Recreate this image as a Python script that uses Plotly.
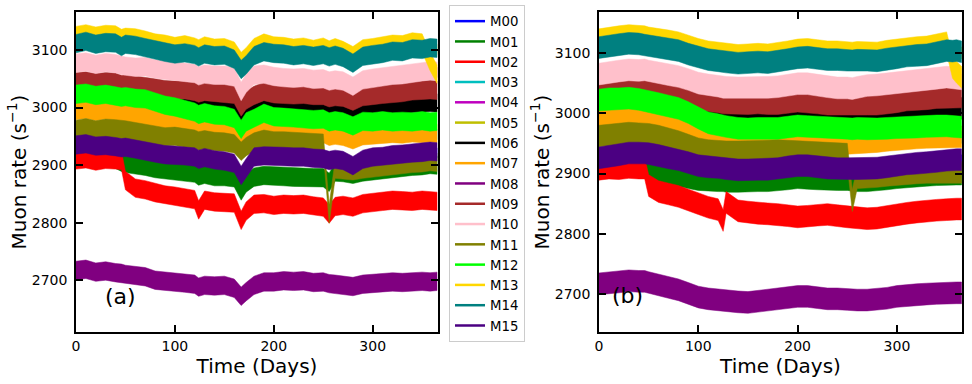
import plotly.graph_objects as go

# ---- data (muon rate, counts per second) ----
names = ["M%02d" % i for i in range(16)]
colors = ["#0000ff", "#008000", "#ff0000", "#00bfbf", "#bf00bf", "#bfbf00",
          "#000000", "#ffa500", "#800080", "#a52a2a", "#ffc0cb", "#808000",
          "#00ff00", "#ffd700", "#008080", "#4b0082"]

days_a = [0, 10, 20, 30, 40, 46, 50, 60, 70, 80, 90, 100, 110, 120, 124, 130,
          140, 150, 160, 167, 172, 180, 190, 200, 210, 220, 230, 240, 250, 256,
          262, 270, 280, 290, 300, 310, 320, 330, 340, 350, 358, 365]

days_b = [0, 10, 20, 30, 40, 46, 50, 60, 70, 80, 90, 100, 110, 120, 125, 128,
          140, 150, 160, 170, 180, 190, 200, 210, 220, 230, 240, 250, 255, 260,
          270, 280, 290, 300, 310, 320, 330, 340, 350, 356, 360, 365]

# panel (a)
a_m00 = [2933, 2935, 2931, 2932, 2930, 2928, 2929, 2926, 2923, 2919, 2916, 2915, 2914, 2912, 2908, 2911,
         2907, 2905, 2901, 2882, 2893, 2912, 2914, 2914, 2913, 2912, 2912, 2910, 2909, 2906,
         2908, 2906, 2899, 2908, 2912, 2913, 2916, 2917, 2919, 2920, 2922, 2921]
a_m01 = [2915, 2914, 2912, 2913, 2910, 2905, 2903, 2900, 2898, 2894, 2891, 2890, 2888, 2886, 2881, 2884,
         2880, 2880, 2878, 2855, 2869, 2879, 2882, 2881, 2880, 2879, 2879, 2878, 2878, 2870,
         2888, 2887, 2884, 2888, 2890, 2892, 2894, 2896, 2898, 2899, 2901, 2900]
a_m02 = [2909, 2911, 2907, 2910, 2909, 2908, 2873, 2860, 2857, 2852, 2848, 2846, 2843, 2840, 2822, 2839,
         2836, 2835, 2834, 2804, 2820, 2832, 2833, 2830, 2832, 2831, 2832, 2829, 2827, 2815,
         2828, 2830, 2827, 2833, 2835, 2837, 2839, 2838, 2837, 2839, 2838, 2837]
a_m03 = [2993, 2995, 2991, 2994, 2990, 2988, 2989, 2986, 2983, 2979, 2975, 2973, 2970, 2966, 2962, 2965,
         2961, 2960, 2956, 2942, 2951, 2958, 2964, 2960, 2959, 2958, 2957, 2954, 2953, 2948,
         2950, 2948, 2942, 2949, 2950, 2952, 2953, 2952, 2954, 2953, 2954, 2953]
a_m04 = [3075, 3077, 3073, 3076, 3074, 3071, 3070, 3068, 3069, 3065, 3063, 3061, 3059, 3057, 3053, 3056,
         3054, 3054, 3051, 3030, 3040, 3054, 3056, 3052, 3050, 3049, 3050, 3047, 3048, 3044,
         3046, 3044, 3037, 3046, 3049, 3051, 3054, 3055, 3057, 3060, 3062, 3061]
a_m05 = [3109, 3113, 3108, 3111, 3110, 3104, 3108, 3106, 3102, 3098, 3094, 3091, 3093, 3090, 3086, 3091,
         3088, 3089, 3082, 3068, 3072, 3088, 3095, 3092, 3091, 3088, 3090, 3087, 3090, 3086,
         3089, 3085, 3077, 3087, 3090, 3092, 3096, 3095, 3100, 3099, 3102, 3101]
a_m06 = [3025, 3026, 3022, 3024, 3022, 3020, 3020, 3018, 3016, 3013, 3010, 3008, 3007, 3006, 3002, 3006,
         3004, 3003, 3000, 2982, 2992, 3000, 3005, 3002, 3001, 2999, 3000, 2998, 2998, 2994,
         2996, 2995, 2988, 2997, 2999, 3001, 3003, 3004, 3007, 3008, 3009, 3008]
a_m07 = [2995, 2997, 2993, 2996, 2992, 2990, 2991, 2988, 2985, 2981, 2977, 2975, 2972, 2968, 2964, 2967,
         2963, 2962, 2958, 2944, 2953, 2960, 2966, 2962, 2961, 2960, 2959, 2956, 2955, 2950,
         2952, 2950, 2944, 2951, 2952, 2954, 2955, 2954, 2956, 2955, 2956, 2955]
a_m08 = [2717, 2719, 2714, 2716, 2713, 2712, 2710, 2708, 2706, 2700, 2698, 2697, 2695, 2693, 2688, 2691,
         2690, 2691, 2686, 2672, 2680, 2691, 2697, 2697, 2699, 2698, 2699, 2696, 2697, 2694,
         2693, 2691, 2689, 2693, 2694, 2696, 2697, 2696, 2697, 2698, 2697, 2698]
a_m09 = [3045, 3046, 3043, 3045, 3044, 3040, 3041, 3039, 3037, 3034, 3031, 3030, 3031, 3028, 3025, 3028,
         3026, 3025, 3023, 3001, 3013, 3021, 3028, 3024, 3023, 3022, 3023, 3021, 3021, 3017,
         3019, 3018, 3011, 3019, 3021, 3023, 3025, 3026, 3029, 3030, 3031, 3030]
a_m10 = [3077, 3079, 3075, 3078, 3076, 3073, 3072, 3070, 3071, 3067, 3065, 3063, 3061, 3059, 3055, 3058,
         3056, 3056, 3053, 3028, 3042, 3056, 3058, 3054, 3052, 3051, 3052, 3049, 3050, 3046,
         3048, 3046, 3037, 3048, 3051, 3053, 3056, 3057, 3059, 3062, 3064, 3063]
a_m11 = [2962, 2965, 2961, 2964, 2963, 2962, 2961, 2958, 2955, 2951, 2949, 2950, 2947, 2945, 2942, 2944,
         2941, 2940, 2937, 2924, 2932, 2940, 2945, 2942, 2942, 2941, 2940, 2939, 2938, 2815,
         2893, 2891, 2890, 2893, 2895, 2897, 2900, 2901, 2903, 2904, 2906, 2905]
a_m12 = [3023, 3025, 3021, 3023, 3020, 3018, 3019, 3016, 3015, 3010, 3004, 3001, 2997, 2992, 2988, 2991,
         2987, 2986, 2981, 2962, 2975, 2981, 2990, 2984, 2983, 2982, 2981, 2979, 2980, 2975,
         2977, 2975, 2968, 2976, 2975, 2977, 2975, 2976, 2975, 2977, 2975, 2976]
a_m13 = [3125, 3128, 3124, 3127, 3126, 3120, 3122, 3121, 3117, 3112, 3110, 3106, 3109, 3105, 3102, 3107,
         3103, 3104, 3098, 3080, 3088, 3104, 3112, 3107, 3106, 3103, 3105, 3101, 3105, 3100,
         3104, 3099, 3090, 3102, 3104, 3107, 3110, 3109, 3114, 3112, 3080, 3058]
a_m14 = [3111, 3115, 3110, 3113, 3112, 3106, 3110, 3108, 3104, 3100, 3096, 3093, 3095, 3092, 3088, 3093,
         3090, 3091, 3084, 3066, 3074, 3090, 3097, 3094, 3093, 3090, 3092, 3089, 3092, 3088,
         3091, 3087, 3077, 3089, 3092, 3094, 3098, 3097, 3102, 3101, 3104, 3103]
a_m15 = [2935, 2937, 2933, 2934, 2932, 2930, 2931, 2928, 2925, 2921, 2918, 2917, 2916, 2914, 2910, 2913,
         2909, 2907, 2903, 2882, 2895, 2914, 2916, 2916, 2915, 2914, 2914, 2912, 2911, 2908,
         2910, 2908, 2899, 2910, 2914, 2915, 2918, 2919, 2921, 2922, 2924, 2923]

# panel (b)
b_m00 = [2924, 2927, 2929, 2932, 2932, 2932, 2931, 2928, 2924, 2921, 2916, 2911, 2909, 2908, 2907, 2906,
         2904, 2904, 2905, 2905, 2906, 2909, 2911, 2911, 2909, 2907, 2906, 2906, 2906, 2906,
         2906, 2907, 2909, 2911, 2914, 2915, 2916, 2918, 2920, 2921, 2921, 2921]
b_m01 = [2912, 2913, 2914, 2916, 2915, 2913, 2910, 2905, 2900, 2896, 2893, 2890, 2889, 2888, 2888, 2887,
         2887, 2887, 2888, 2888, 2889, 2891, 2893, 2892, 2891, 2890, 2890, 2890, 2889, 2888,
         2888, 2889, 2891, 2893, 2895, 2896, 2897, 2898, 2899, 2899, 2899, 2899]
b_m02 = [2907, 2909, 2908, 2910, 2909, 2909, 2880, 2870, 2866, 2862, 2856, 2850, 2844, 2840, 2822, 2852,
         2838, 2836, 2834, 2833, 2832, 2830, 2828, 2829, 2831, 2832, 2830, 2828, 2827, 2826,
         2825, 2826, 2829, 2831, 2834, 2836, 2838, 2839, 2840, 2841, 2841, 2841]
b_m03 = [2987, 2989, 2990, 2991, 2989, 2988, 2987, 2984, 2980, 2976, 2970, 2964, 2962, 2960, 2959, 2959,
         2958, 2958, 2959, 2957, 2956, 2957, 2957, 2956, 2954, 2951, 2950, 2949, 2949, 2950,
         2951, 2952, 2954, 2956, 2957, 2958, 2959, 2960, 2960, 2960, 2960, 2960]
b_m04 = [3063, 3066, 3068, 3070, 3069, 3070, 3068, 3065, 3062, 3059, 3054, 3048, 3045, 3043, 3041, 3041,
         3040, 3040, 3041, 3041, 3042, 3044, 3047, 3047, 3045, 3042, 3040, 3040, 3039, 3041,
         3044, 3045, 3047, 3049, 3051, 3052, 3054, 3056, 3058, 3057, 3056, 3055]
b_m05 = [3107, 3110, 3112, 3114, 3113, 3111, 3110, 3108, 3105, 3102, 3096, 3091, 3087, 3085, 3084, 3083,
         3081, 3082, 3083, 3082, 3084, 3087, 3090, 3091, 3089, 3087, 3087, 3086, 3085, 3086,
         3086, 3085, 3088, 3090, 3093, 3094, 3095, 3099, 3102, 3101, 3102, 3100]
b_m06 = [3025, 3027, 3028, 3030, 3029, 3028, 3027, 3024, 3020, 3016, 3011, 3006, 3003, 3000, 2998, 2998,
         2997, 2997, 2998, 2997, 2997, 2999, 3001, 3000, 2998, 2996, 2996, 2996, 2995, 2996,
         2996, 2996, 2998, 3000, 3003, 3004, 3005, 3007, 3008, 3008, 3008, 3008]
b_m07 = [2989, 2991, 2992, 2993, 2991, 2990, 2989, 2986, 2982, 2978, 2972, 2966, 2963, 2961, 2960, 2960,
         2959, 2959, 2960, 2958, 2957, 2958, 2958, 2957, 2955, 2952, 2951, 2950, 2950, 2951,
         2952, 2953, 2955, 2957, 2958, 2959, 2960, 2961, 2961, 2961, 2961, 2961]
b_m08 = [2717, 2719, 2720, 2722, 2721, 2721, 2719, 2715, 2711, 2707, 2701, 2695, 2692, 2690, 2689, 2689,
         2687, 2686, 2688, 2690, 2692, 2694, 2696, 2696, 2694, 2692, 2692, 2691, 2690, 2690,
         2690, 2691, 2693, 2696, 2698, 2699, 2700, 2701, 2702, 2702, 2702, 2702]
b_m09 = [3039, 3041, 3042, 3044, 3043, 3042, 3041, 3038, 3034, 3030, 3025, 3022, 3021, 3019, 3017, 3017,
         3016, 3016, 3017, 3016, 3016, 3018, 3020, 3019, 3017, 3015, 3015, 3015, 3014, 3015,
         3015, 3015, 3017, 3019, 3022, 3023, 3024, 3026, 3027, 3027, 3027, 3027]
b_m10 = [3065, 3068, 3070, 3072, 3071, 3072, 3070, 3067, 3064, 3061, 3056, 3050, 3047, 3045, 3043, 3043,
         3042, 3042, 3043, 3043, 3044, 3046, 3049, 3049, 3047, 3044, 3042, 3042, 3041, 3043,
         3046, 3047, 3049, 3051, 3053, 3054, 3056, 3058, 3060, 3059, 3058, 3057]
b_m11 = [2962, 2964, 2965, 2967, 2966, 2966, 2965, 2962, 2958, 2953, 2947, 2941, 2938, 2937, 2936, 2936,
         2936, 2936, 2937, 2937, 2938, 2937, 2936, 2935, 2934, 2933, 2932, 2932, 2855, 2893,
         2894, 2895, 2897, 2899, 2900, 2901, 2902, 2902, 2903, 2903, 2902, 2902]
b_m12 = [3022, 3024, 3024, 3025, 3023, 3021, 3020, 3016, 3012, 3008, 3001, 2992, 2984, 2981, 2979, 2978,
         2975, 2974, 2975, 2975, 2975, 2977, 2979, 2978, 2977, 2976, 2976, 2975, 2974, 2975,
         2974, 2974, 2975, 2976, 2977, 2977, 2978, 2979, 2979, 2978, 2977, 2977]
b_m13 = [3122, 3125, 3127, 3129, 3128, 3127, 3125, 3123, 3120, 3117, 3111, 3106, 3102, 3100, 3099, 3098,
         3096, 3097, 3098, 3097, 3099, 3102, 3105, 3106, 3104, 3102, 3102, 3101, 3100, 3101,
         3101, 3100, 3103, 3105, 3108, 3109, 3110, 3114, 3117, 3076, 3068, 3060]
b_m14 = [3109, 3112, 3114, 3116, 3115, 3113, 3112, 3110, 3107, 3104, 3098, 3093, 3089, 3087, 3086, 3085,
         3083, 3084, 3085, 3084, 3086, 3089, 3092, 3093, 3091, 3089, 3089, 3088, 3087, 3088,
         3088, 3087, 3090, 3092, 3095, 3096, 3097, 3101, 3104, 3103, 3104, 3102]
b_m15 = [2926, 2929, 2931, 2934, 2934, 2934, 2933, 2930, 2926, 2923, 2918, 2913, 2911, 2910, 2909, 2908,
         2906, 2906, 2907, 2907, 2908, 2911, 2913, 2913, 2911, 2909, 2908, 2908, 2908, 2908,
         2908, 2909, 2911, 2913, 2916, 2917, 2918, 2920, 2922, 2923, 2923, 2923]

panel_a = [a_m00, a_m01, a_m02, a_m03, a_m04, a_m05, a_m06, a_m07,
           a_m08, a_m09, a_m10, a_m11, a_m12, a_m13, a_m14, a_m15]
panel_b = [b_m00, b_m01, b_m02, b_m03, b_m04, b_m05, b_m06, b_m07,
           b_m08, b_m09, b_m10, b_m11, b_m12, b_m13, b_m14, b_m15]

FONT = "DejaVu Sans"
W, H = 972, 384
hidden = {0, 3, 4, 5}  # these sit fully under later detectors


def band(days, vals, half):
    # the hourly scatter reads as a band of constant height around each curve
    xs = list(days) + list(days)[::-1]
    ys = [v + half for v in vals] + [v - half for v in vals][::-1]
    return xs, ys


fig = go.Figure()
for i, name in enumerate(names):
    ha, hb = (9, 10) if i in hidden else (16, 18)
    for days, vals, half, xa, ya in ((days_a, panel_a[i], ha, "x", "y"),
                                     (days_b, panel_b[i], hb, "x2", "y2")):
        xs, ys = band(days, vals, half)
        fig.add_trace(go.Scatter(x=xs, y=ys, mode="lines", fill="toself", name=name,
                                 fillcolor=colors[i], line=dict(color=colors[i], width=0.5),
                                 showlegend=False, hoverinfo="skip", xaxis=xa, yaxis=ya))
# thin legend entries
for i, name in enumerate(names):
    fig.add_trace(go.Scatter(x=[None], y=[None], mode="lines", name=name,
                             line=dict(color=colors[i], width=2.5), xaxis="x", yaxis="y"))

axis_style = dict(showline=True, linecolor="black", linewidth=1.5, mirror="allticks",
                  ticks="inside", ticklen=7, tickwidth=1.5, tickcolor="black",
                  showgrid=False, zeroline=False, automargin=False,
                  tickfont=dict(family=FONT, size=14, color="black"))
title_font = dict(family=FONT, size=20, color="black")

fig.update_layout(
    width=W, height=H,
    margin=dict(l=0, r=0, t=0, b=0, autoexpand=False),
    paper_bgcolor="white", plot_bgcolor="white",
    xaxis=dict(domain=[76 / W, 438 / W], range=[0, 366], dtick=100, anchor="y",
               title=dict(text="Time (Days)", font=title_font, standoff=2), **axis_style),
    yaxis=dict(domain=[1 - 332 / H, 1 - 12 / H], range=[2610, 3166], tick0=2700, dtick=100,
               anchor="x", title=dict(text="Muon rate (s<sup>−1</sup>)", font=title_font, standoff=0),
               ticklabelstandoff=4, **axis_style),
    xaxis2=dict(domain=[599 / W, 962 / W], range=[0, 365.5], dtick=100, anchor="y2",
                title=dict(text="Time (Days)", font=title_font, standoff=2), **axis_style),
    yaxis2=dict(domain=[1 - 332 / H, 1 - 12 / H], range=[2637, 3168], tick0=2700, dtick=100,
                anchor="x2", title=dict(text="Muon rate (s<sup>−1</sup>)", font=title_font, standoff=0),
                ticklabelstandoff=4, **axis_style),
    legend=dict(x=449 / W, y=1 - 5 / H, xanchor="left", yanchor="top", itemwidth=30,
                bgcolor="white", bordercolor="#cccccc", borderwidth=1,
                font=dict(family=FONT, size=13.3, color="black"), tracegroupgap=0),
    annotations=[
        dict(text="(a)", x=103 / W, y=1 - 311 / H, xref="paper", yref="paper",
             showarrow=False, font=dict(family=FONT, size=22, color="black")),
        dict(text="(b)", x=627 / W, y=1 - 310 / H, xref="paper", yref="paper",
             showarrow=False, font=dict(family=FONT, size=22, color="black")),
    ],
)

fig.write_html("out.html", config={"displayModeBar": False},
               post_script="document.body.style.margin='0';")
